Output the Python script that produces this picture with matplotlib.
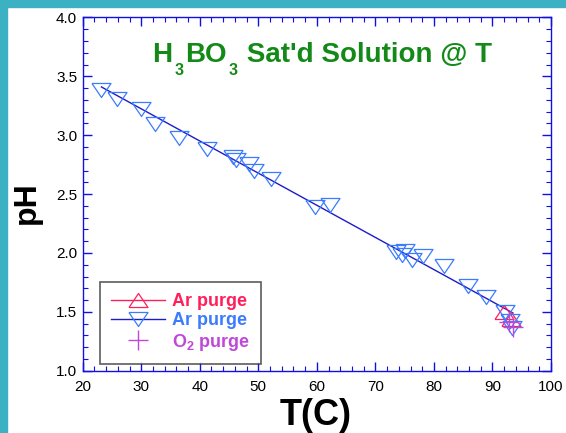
import matplotlib
matplotlib.use("Agg")
import matplotlib.pyplot as plt
from matplotlib.lines import Line2D
from matplotlib.patches import Rectangle
from matplotlib.ticker import MultipleLocator, FormatStrFormatter

plt.rcParams['font.family'] = ['Liberation Sans', 'DejaVu Sans']
plt.rcParams['mathtext.fontset'] = 'custom'
plt.rcParams['mathtext.rm'] = 'Liberation Sans:bold'
plt.rcParams['mathtext.bf'] = 'Liberation Sans:bold'

# Ar purge (blue, downward triangles)
ar_blue_T = [23.2, 25.8, 30.0, 32.4, 36.4, 41.2, 45.6, 46.2, 48.4, 49.2, 52.1,
             59.7, 62.3, 73.5, 75.0, 74.5, 76.3, 78.1, 81.8, 85.8, 88.9,
             92.1, 93.0, 93.4]
ar_blue_pH = [3.385, 3.31, 3.224, 3.097, 2.98, 2.885, 2.811, 2.786, 2.752, 2.695, 2.63,
              2.39, 2.41, 2.007, 2.016, 1.98, 1.94, 1.97, 1.886, 1.716, 1.626,
              1.50, 1.42, 1.36]

# Ar purge (red, upward triangles)
ar_red_T = [91.9, 93.2]
ar_red_pH = [1.496, 1.44]

# O2 purge (plus)
o2_T = [92.9, 93.5]
o2_pH = [1.416, 1.374]

# linear fit line of the blue set
fit_T = [23.2, 93.5]
fit_pH = [3.41, 1.49]

BLUE = "#3a7bff"
RED = "#ff1f5a"
PURPLE = "#c048d8"
FIT = "#1c1cc8"
AXIS = "#1010e0"
GREEN = "#138a18"

tri_down = [(-1, 0.737), (1, 0.737), (0, -0.737), (-1, 0.737)]
tri_up = [(-1, -0.737), (1, -0.737), (0, 0.737), (-1, -0.737)]

fig = plt.figure(figsize=(5.66, 4.33), dpi=100)
ax = fig.add_axes([0.1461, 0.1439, 0.8274, 0.8157])

# teal frame strips
fig.patches.append(Rectangle((0, 0), 7 / 566, 1, transform=fig.transFigure,
                             color="#3db1c4", zorder=-1))
fig.patches.append(Rectangle((0, 1 - 7 / 433), 1, 7 / 433, transform=fig.transFigure,
                             color="#3db1c4", zorder=-1))

ax.plot(fit_T, fit_pH, color=FIT, lw=1.0, zorder=2)
ax.plot(ar_red_T, ar_red_pH, ls='none', marker=tri_up, ms=13.7, mfc='none',
        mec=RED, mew=0.9, zorder=3)
ax.plot(ar_blue_T, ar_blue_pH, ls='none', marker=tri_down, ms=13.7, mfc='none',
        mec=BLUE, mew=0.9, zorder=4)
ax.plot(o2_T, o2_pH, ls='none', marker='+', ms=13.7, mec=PURPLE, mew=1.0, zorder=5)

ax.set_xlim(20, 100)
ax.set_ylim(1.0, 4.0)
ax.xaxis.set_major_locator(MultipleLocator(10))
ax.xaxis.set_minor_locator(MultipleLocator(2))
ax.yaxis.set_major_locator(MultipleLocator(0.5))
ax.yaxis.set_minor_locator(MultipleLocator(0.1))
ax.yaxis.set_major_formatter(FormatStrFormatter('%.1f'))

for s in ax.spines.values():
    s.set_color(AXIS)
    s.set_linewidth(1.0)
ax.tick_params(which='both', direction='in', top=True, right=True,
               color=AXIS, labelsize=11, labelcolor='black')
ax.tick_params(which='major', length=6.5, width=1.0, pad=4)
ax.tick_params(which='minor', length=3.5, width=0.8)
ax.tick_params(axis='x', which='major', pad=7)

ax.set_xlabel("T(C)", fontsize=26, fontweight='bold')
ax.xaxis.set_label_coords(0.498, -0.076)
ax.set_ylabel("pH", fontsize=23, fontweight='bold')
ax.yaxis.set_label_coords(-0.087, 0.475)

# title with low-set subscripts, pieces chained left to right
tkw = dict(fontsize=20, fontweight='bold', color=GREEN)
skw = dict(fontsize=11.5, fontweight='bold', color=GREEN)
t_h = ax.text(0.148, 0.875, "H", transform=ax.transAxes, ha='left', va='baseline', **tkw)
t_s1 = ax.annotate("3", xy=(1, 0), xycoords=t_h, xytext=(1.5, -5.5),
                   textcoords='offset points', ha='left', va='baseline', **skw)
t_bo = ax.annotate("BO", xy=(1, 0), xycoords=(t_s1, t_h), xytext=(1.5, 0),
                   textcoords='offset points', ha='left', va='bottom', **tkw)
t_s2 = ax.annotate("3", xy=(1, 0), xycoords=t_bo, xytext=(1.5, -5.5),
                   textcoords='offset points', ha='left', va='baseline', **skw)
ax.annotate(" Sat'd Solution @ T", xy=(1, 0), xycoords=(t_s2, t_h), xytext=(1.0, 0),
            textcoords='offset points', ha='left', va='bottom', **tkw)

handles = [
    Line2D([], [], color=RED, lw=1.0, marker=tri_up, ms=13.7, mfc='none', mec=RED, mew=0.9),
    Line2D([], [], color=FIT, lw=1.0, marker=tri_down, ms=13.7, mfc='none', mec=BLUE, mew=0.9),
    Line2D([], [], ls='none', marker='+', ms=13.7, mec=PURPLE, mew=1.0),
]
labels = ["Ar purge", "Ar purge", r"O$_\mathrm{2}$ purge"]
leg = ax.legend(handles, labels, loc='lower left', bbox_to_anchor=(0.037, 0.019),
                borderaxespad=0, fancybox=False, handlelength=3.0, handletextpad=0.35,
                labelspacing=0.13, borderpad=0.62,
                prop={'weight': 'bold', 'size': 13})
leg.get_frame().set_edgecolor('#333333')
leg.get_frame().set_linewidth(1.2)
for t, c in zip(leg.get_texts(), [RED, BLUE, PURPLE]):
    t.set_color(c)

fig.savefig("out.png", dpi=100)
